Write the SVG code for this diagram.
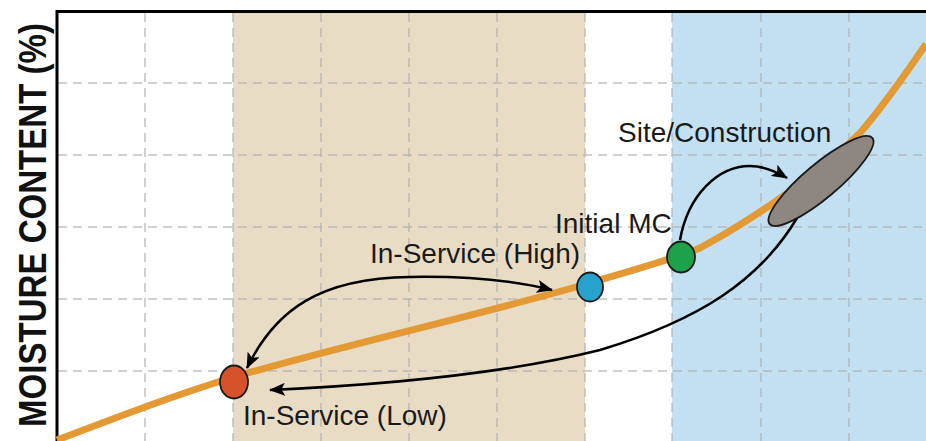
<svg xmlns="http://www.w3.org/2000/svg" width="926" height="441" viewBox="0 0 926 441">
<style>
.grid{stroke:#b0b0b0;stroke-opacity:.6;stroke-width:2;stroke-dasharray:9 6;fill:none}
.conn{fill:none;stroke:#000;stroke-width:2.5}
.dot{stroke:#1a1a1a;stroke-width:1.8}
.lbl{font-family:"Liberation Sans",Arial,sans-serif;font-size:28px;fill:#1a1a1a}
</style>
<defs>
<marker id="ah" viewBox="0 0 16 13" refX="15" refY="6.5" markerWidth="16" markerHeight="13" markerUnits="userSpaceOnUse" orient="auto-start-reverse">
<path d="M0,0 L16,6.5 L0,13 L3.5,6.5 Z" fill="#000"/>
</marker>
</defs>
<rect x="0" y="0" width="926" height="441" fill="#fff"/>
<g id="bands">
<rect x="233" y="12" width="352" height="429" fill="#e9dcc5"/>
<rect x="672" y="12" width="254" height="429" fill="#c3e0f2"/>
</g>
<g id="grid">
<path class="grid" d="M145,13V441M233,13V441M321,13V441M409,13V441M497,13V441M585,13V441M672,13V441M761,13V441M849,13V441"/>
<path class="grid" d="M58,83H926M58,155H926M58,227H926M58,299H926M58,371H926"/>
</g>
<g id="frame">
<path d="M57,441V11.5H926" fill="none" stroke="#000" stroke-width="3"/>
</g>
<g id="axis-label">
<text transform="translate(46,225) rotate(-90) scale(0.87,1)" text-anchor="middle" font-family="Liberation Sans, Arial, sans-serif" font-weight="bold" font-size="38" fill="#111">MOISTURE CONTENT (%)</text>
</g>
<g id="curve">
<path d="M57,440 C120,416 175,395 234,377 C340,346 480,315 590,283 C640,268 670,260 700,248 C745,224 815,178 860,133 C885,104 905,75 926,44" fill="none" stroke="#e39a35" stroke-width="7"/>
</g>
<g id="connectors">
<path class="conn" d="M247,368 C275,310 320,278 410,277 C470,276 520,282 552,290" marker-start="url(#ah)" marker-end="url(#ah)"/>
<path class="conn" d="M680,240 C688,195 718,166 750,166 C765,166 777,172 787,178" marker-end="url(#ah)"/>
<path class="conn" d="M797,218 C760,280 700,320 600,350 C500,375 380,385 270,390" marker-end="url(#ah)"/>
</g>
<g id="site-construction">
<ellipse class="dot" cx="821" cy="181" rx="67" ry="17" transform="rotate(-40 821 181)" fill="#8e8680"/>
<text class="lbl" x="618" y="142">Site/Construction</text>
</g>
<g id="initial-mc">
<ellipse class="dot" cx="681" cy="257" rx="14" ry="15.5" fill="#1da14a"/>
<text class="lbl" x="555" y="233">Initial MC</text>
</g>
<g id="in-service-high">
<ellipse class="dot" cx="590" cy="287" rx="13" ry="14.5" fill="#27a2cc"/>
<text class="lbl" x="370" y="263">In-Service (High)</text>
</g>
<g id="in-service-low">
<ellipse class="dot" cx="234" cy="382" rx="14" ry="16.5" fill="#d6522a"/>
<text class="lbl" x="243" y="425">In-Service (Low)</text>
</g>
</svg>
